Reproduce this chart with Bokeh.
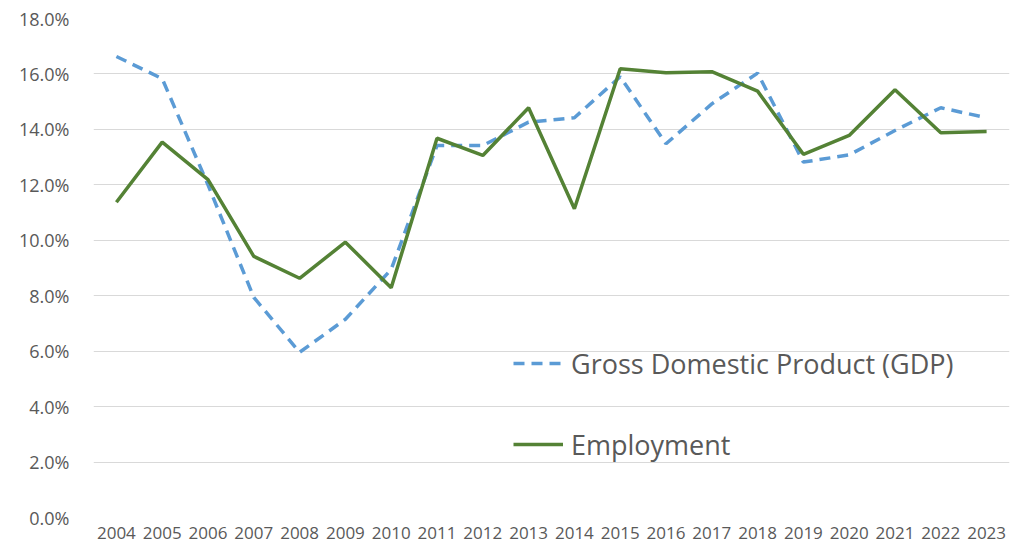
from bokeh.plotting import figure
from bokeh.models import Range1d, FactorRange, PrintfTickFormatter, Legend, LegendItem, FixedTicker
from bokeh.embed import file_html
from bokeh.resources import INLINE

years = [str(y) for y in range(2004, 2024)]
gdp = [16.63, 15.83, 12.0, 7.94, 5.96, 7.15, 8.95, 13.42, 13.42, 14.26,
       14.42, 15.9, 13.48, 14.92, 16.03, 12.82, 13.08, 13.96, 14.78, 14.42]
employment = [11.37, 13.54, 12.19, 9.42, 8.63, 9.93, 8.29, 13.68, 13.06, 14.78,
              11.14, 16.19, 16.04, 16.08, 15.38, 13.1, 13.78, 15.43, 13.88, 13.92]
y_ticks = [0, 2, 4, 6, 8, 10, 12, 14, 16, 18]

FONT = "Open Sans"
GREY = "#595959"

p = figure(width=1016, height=546, x_range=FactorRange(*years), y_range=Range1d(0, 18),
           output_backend="svg", toolbar_location=None,
           min_border_left=93, min_border_right=7, min_border_top=18, min_border_bottom=29)
p.outline_line_color = None
p.background_fill_color = "white"
p.border_fill_color = "white"

r1 = p.line(years, gdp, line_color="#5B9BD5", line_width=3.5, line_dash="11 7")
r2 = p.line(years, employment, line_color="#548235", line_width=3.5)

p.xgrid.grid_line_color = None
p.ygrid.grid_line_color = "#D9D9D9"
p.ygrid.grid_line_width = 1
p.yaxis.ticker = FixedTicker(ticks=y_ticks)
p.yaxis.formatter = PrintfTickFormatter(format="%.1f%%")

for ax in (p.xaxis[0], p.yaxis[0]):
    ax.axis_line_color = None
    ax.major_tick_line_color = None
    ax.minor_tick_line_color = None
    ax.major_tick_out = 0
    ax.major_tick_in = 0
    ax.major_label_text_font = FONT
    ax.major_label_text_color = GREY
p.yaxis.major_label_text_font_size = "18px"
p.yaxis.major_label_standoff = 24
p.xaxis.major_label_text_font_size = "17px"
p.xaxis.major_label_standoff = 9

legend = Legend(items=[LegendItem(label="Gross Domestic Product (GDP)", renderers=[r1]),
                       LegendItem(label="Employment", renderers=[r2])],
                location=(420, 54))
legend.label_text_font = FONT
legend.label_text_font_size = "27px"
legend.label_text_color = GREY
legend.glyph_width = 50
legend.glyph_height = 38
legend.label_height = 38
legend.label_standoff = 8
legend.spacing = 43
legend.padding = 0
legend.margin = 0
legend.border_line_color = None
legend.background_fill_alpha = 0
p.add_layout(legend, "center")

open("out.html", "w").write(file_html(p, INLINE))
